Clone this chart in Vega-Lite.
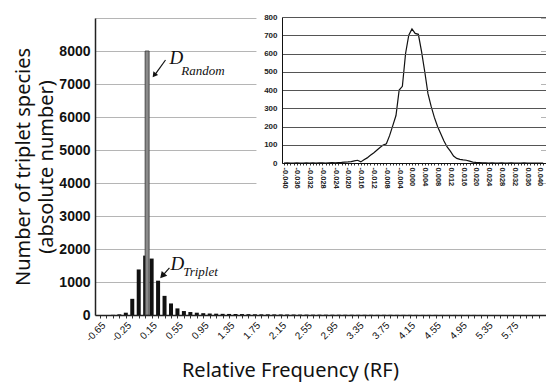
{
  "$schema": "https://vega.github.io/schema/vega-lite/v6.json",
  "width": 451,
  "height": 297,
  "autosize": {"type": "none"},
  "padding": {"left": 95, "top": 18, "right": 0, "bottom": 72},
  "background": "white",
  "config": {"view": {"stroke": null}},
  "datasets": {
    "triplet": [
      {"rf": -0.45, "count": 5}, {"rf": -0.35, "count": 20}, {"rf": -0.25, "count": 70}, {"rf": -0.15, "count": 490},
      {"rf": -0.05, "count": 1380}, {"rf": 0.05, "count": 1800}, {"rf": 0.15, "count": 1710}, {"rf": 0.25, "count": 1040},
      {"rf": 0.35, "count": 580}, {"rf": 0.45, "count": 350}, {"rf": 0.55, "count": 200}, {"rf": 0.65, "count": 120},
      {"rf": 0.75, "count": 90}, {"rf": 0.85, "count": 70}, {"rf": 0.95, "count": 55}, {"rf": 1.05, "count": 45},
      {"rf": 1.15, "count": 40}, {"rf": 1.25, "count": 35}, {"rf": 1.35, "count": 32}, {"rf": 1.45, "count": 30},
      {"rf": 1.55, "count": 28}, {"rf": 1.65, "count": 25}, {"rf": 1.75, "count": 22}, {"rf": 1.85, "count": 20},
      {"rf": 1.95, "count": 20}, {"rf": 2.05, "count": 18}, {"rf": 2.15, "count": 16}, {"rf": 2.25, "count": 15},
      {"rf": 2.35, "count": 14}, {"rf": 2.45, "count": 12}, {"rf": 2.55, "count": 12}, {"rf": 2.65, "count": 10},
      {"rf": 2.75, "count": 10}, {"rf": 2.85, "count": 9}, {"rf": 2.95, "count": 8}, {"rf": 3.05, "count": 8},
      {"rf": 3.15, "count": 7}, {"rf": 3.25, "count": 7}, {"rf": 3.35, "count": 6}, {"rf": 3.45, "count": 6},
      {"rf": 3.55, "count": 6}, {"rf": 3.65, "count": 5}, {"rf": 3.75, "count": 5}, {"rf": 3.85, "count": 5},
      {"rf": 3.95, "count": 4}, {"rf": 4.05, "count": 4}, {"rf": 4.15, "count": 4}, {"rf": 4.25, "count": 3},
      {"rf": 4.35, "count": 3}, {"rf": 4.45, "count": 3}, {"rf": 4.55, "count": 3}, {"rf": 4.65, "count": 2},
      {"rf": 4.75, "count": 2}, {"rf": 4.85, "count": 2}, {"rf": 4.95, "count": 2}, {"rf": 5.05, "count": 2},
      {"rf": 5.15, "count": 2}, {"rf": 5.25, "count": 1}
    ],
    "random": [
      {"rf": 0.08, "count": 8000}
    ],
    "inset": [
      {"v": -0.040, "n": 0}, {"v": -0.039, "n": 1}, {"v": -0.038, "n": 0}, {"v": -0.037, "n": 0}, {"v": -0.036, "n": 1},
      {"v": -0.035, "n": 0}, {"v": -0.034, "n": 0}, {"v": -0.033, "n": 1}, {"v": -0.032, "n": 0}, {"v": -0.031, "n": 1},
      {"v": -0.030, "n": 0}, {"v": -0.029, "n": 1}, {"v": -0.028, "n": 1}, {"v": -0.027, "n": 0}, {"v": -0.026, "n": 1},
      {"v": -0.025, "n": 2}, {"v": -0.024, "n": 1}, {"v": -0.023, "n": 2}, {"v": -0.022, "n": 3}, {"v": -0.021, "n": 5},
      {"v": -0.020, "n": 6}, {"v": -0.019, "n": 8}, {"v": -0.018, "n": 12}, {"v": -0.017, "n": 15}, {"v": -0.016, "n": 6},
      {"v": -0.015, "n": 18}, {"v": -0.014, "n": 28}, {"v": -0.013, "n": 42}, {"v": -0.012, "n": 55}, {"v": -0.011, "n": 70},
      {"v": -0.010, "n": 85}, {"v": -0.009, "n": 98}, {"v": -0.008, "n": 105}, {"v": -0.007, "n": 150}, {"v": -0.006, "n": 205},
      {"v": -0.005, "n": 260}, {"v": -0.004, "n": 400}, {"v": -0.003, "n": 420}, {"v": -0.002, "n": 600}, {"v": -0.001, "n": 700},
      {"v": 0.000, "n": 735}, {"v": 0.001, "n": 710}, {"v": 0.002, "n": 705}, {"v": 0.003, "n": 610}, {"v": 0.004, "n": 500},
      {"v": 0.005, "n": 380}, {"v": 0.006, "n": 310}, {"v": 0.007, "n": 250}, {"v": 0.008, "n": 200}, {"v": 0.009, "n": 160},
      {"v": 0.010, "n": 120}, {"v": 0.011, "n": 88}, {"v": 0.012, "n": 65}, {"v": 0.013, "n": 38}, {"v": 0.014, "n": 25},
      {"v": 0.015, "n": 20}, {"v": 0.016, "n": 17}, {"v": 0.017, "n": 15}, {"v": 0.018, "n": 10}, {"v": 0.019, "n": 5},
      {"v": 0.020, "n": 3}, {"v": 0.021, "n": 2}, {"v": 0.022, "n": 1}, {"v": 0.023, "n": 1}, {"v": 0.024, "n": 0},
      {"v": 0.025, "n": 1}, {"v": 0.026, "n": 0}, {"v": 0.027, "n": 0}, {"v": 0.028, "n": 1}, {"v": 0.029, "n": 0},
      {"v": 0.030, "n": 0}, {"v": 0.031, "n": 1}, {"v": 0.032, "n": 0}, {"v": 0.033, "n": 0}, {"v": 0.034, "n": 0},
      {"v": 0.035, "n": 1}, {"v": 0.036, "n": 0}, {"v": 0.037, "n": 0}, {"v": 0.038, "n": 0}, {"v": 0.039, "n": 0},
      {"v": 0.040, "n": 0}, {"v": 0.041, "n": 0}
    ]
  },
  "layer": [
    {
      "layer": [
        {
          "data": {"name": "triplet"},
          "mark": {"type": "bar", "width": 4, "color": "#111"},
          "encoding": {
            "x": {
              "field": "rf", "type": "quantitative",
              "scale": {"domain": [-0.65, 6.183], "nice": false, "zero": false},
              "axis": {
                "values": [-0.65, -0.55, -0.45, -0.35, -0.25, -0.15, -0.05, 0.05, 0.15, 0.25, 0.35, 0.45, 0.55, 0.65, 0.75, 0.85, 0.95, 1.05, 1.15, 1.25, 1.35, 1.45, 1.55, 1.65, 1.75, 1.85, 1.95, 2.05, 2.15, 2.25, 2.35, 2.45, 2.55, 2.65, 2.75, 2.85, 2.95, 3.05, 3.15, 3.25, 3.35, 3.45, 3.55, 3.65, 3.75, 3.85, 3.95, 4.05, 4.15, 4.25, 4.35, 4.45, 4.55, 4.65, 4.75, 4.85, 4.95, 5.05, 5.15, 5.25, 5.35, 5.45, 5.55, 5.65, 5.75, 5.85, 5.95, 6.05, 6.15],
                "tickCount": 1000,
                "labelExpr": "(round((datum.value + 0.65) * 10) % 4 == 0 && datum.value < 6) ? replace(format(datum.value, '.2f'), '\u2212', '-') : ''",
                "labelAngle": -45,
                "labelFont": "Liberation Sans",
                "labelFontSize": 10,
                "labelColor": "#111",
                "labelPadding": 2,
                "labelOverlap": false,
                "labelBound": false,
                "tickSize": 3,
                "tickColor": "#333",
                "grid": false,
                "domainColor": "#222",
                "domainWidth": 1.5,
                "title": "Relative Frequency (RF)",
                "titleFont": "Noto Sans",
                "titleFontSize": 20,
                "titleFontWeight": "normal",
                "titleColor": "#111",
                "titleX": 195,
                "titleY": 61,
                "titleBaseline": "alphabetic"
              }
            },
            "y": {
              "field": "count", "type": "quantitative",
              "scale": {"domain": [0, 9000], "nice": false},
              "axis": {
                "values": [0, 1000, 2000, 3000, 4000, 5000, 6000, 7000, 8000, 9000],
                "tickCount": 1000,
                "labelExpr": "datum.value == 9000 ? '' : datum.label",
                "format": "d",
                "ticks": false,
                "grid": true,
                "gridColor": "#b5b5b5",
                "labelFont": "Liberation Sans",
                "labelFontSize": 14,
                "labelFontWeight": "bold",
                "labelColor": "#111",
                "labelPadding": 5,
                "labelOverlap": false,
                "domainColor": "#222",
                "domainWidth": 1.5,
                "title": ["Number of triplet species", "(absolute number)"],
                "titleFont": "Noto Sans",
                "titleFontSize": 20,
                "titleFontWeight": "normal",
                "titleColor": "#111",
                "titleLineHeight": 23,
                "titlePadding": 2
              }
            }
          }
        },
        {
          "data": {"name": "random"},
          "mark": {"type": "bar", "width": 4, "fill": "#8a8a8a", "stroke": "#333", "strokeWidth": 0.8},
          "encoding": {
            "x": {"field": "rf", "type": "quantitative"},
            "y": {"field": "count", "type": "quantitative"}
          }
        },
        {
          "data": {"values": [{}]},
          "mark": {"type": "rect", "fill": "white"},
          "encoding": {
            "x": {"datum": 1.774}, "x2": {"datum": 6.183},
            "y": {"datum": 9000}, "y2": {"datum": 3500}
          }
        },
        {
          "data": {"values": [{}]},
          "mark": {"type": "rule", "color": "#111", "strokeWidth": 1.2},
          "encoding": {
            "x": {"datum": 0.365}, "x2": {"datum": 0.205},
            "y": {"datum": 7727}, "y2": {"datum": 7290}
          }
        },
        {
          "data": {"values": [{}]},
          "mark": {"type": "point", "shape": "triangle", "filled": true, "color": "#111", "size": 35, "angle": 217, "opacity": 1},
          "encoding": {"x": {"datum": 0.198}, "y": {"datum": 7288}}
        },
        {
          "data": {"values": [{}]},
          "mark": {"type": "rule", "color": "#111", "strokeWidth": 1.2},
          "encoding": {
            "x": {"datum": 0.426}, "x2": {"datum": 0.33},
            "y": {"datum": 1425}, "y2": {"datum": 1215}
          }
        },
        {
          "data": {"values": [{}]},
          "mark": {"type": "point", "shape": "triangle", "filled": true, "color": "#111", "size": 55, "angle": 222, "opacity": 1},
          "encoding": {"x": {"datum": 0.327}, "y": {"datum": 1213}}
        },
        {
          "data": {"values": [{}]},
          "mark": {"type": "text", "text": "D", "font": "Liberation Serif", "fontStyle": "italic", "fontSize": 19, "align": "left", "baseline": "alphabetic", "color": "#111"},
          "encoding": {"x": {"datum": 0.426}, "y": {"datum": 7606}}
        },
        {
          "data": {"values": [{}]},
          "mark": {"type": "text", "text": "Random", "font": "Liberation Serif", "fontStyle": "italic", "fontSize": 13, "align": "left", "baseline": "alphabetic", "color": "#111"},
          "encoding": {"x": {"datum": 0.608}, "y": {"datum": 7273}}
        },
        {
          "data": {"values": [{}]},
          "mark": {"type": "text", "text": "D", "font": "Liberation Serif", "fontStyle": "italic", "fontSize": 19, "align": "left", "baseline": "alphabetic", "color": "#111"},
          "encoding": {"x": {"datum": 0.441}, "y": {"datum": 1364}}
        },
        {
          "data": {"values": [{}]},
          "mark": {"type": "text", "text": "Triplet", "font": "Liberation Serif", "fontStyle": "italic", "fontSize": 13, "align": "left", "baseline": "alphabetic", "color": "#111"},
          "encoding": {"x": {"datum": 0.638}, "y": {"datum": 1183}}
        }
      ]
    },
    {
      "data": {"name": "inset"},
      "mark": {"type": "line", "color": "#111", "strokeWidth": 1.2},
      "encoding": {
        "x": {
          "field": "v", "type": "quantitative",
          "scale": {"domain": [-0.04063, 0.0419], "range": [187, 451], "nice": false, "zero": false},
          "axis": {
            "orient": "bottom",
            "offset": -152,
            "values": [-0.040, -0.039, -0.038, -0.037, -0.036, -0.035, -0.034, -0.033, -0.032, -0.031, -0.030, -0.029, -0.028, -0.027, -0.026, -0.025, -0.024, -0.023, -0.022, -0.021, -0.020, -0.019, -0.018, -0.017, -0.016, -0.015, -0.014, -0.013, -0.012, -0.011, -0.010, -0.009, -0.008, -0.007, -0.006, -0.005, -0.004, -0.003, -0.002, -0.001, 0.000, 0.001, 0.002, 0.003, 0.004, 0.005, 0.006, 0.007, 0.008, 0.009, 0.010, 0.011, 0.012, 0.013, 0.014, 0.015, 0.016, 0.017, 0.018, 0.019, 0.020, 0.021, 0.022, 0.023, 0.024, 0.025, 0.026, 0.027, 0.028, 0.029, 0.030, 0.031, 0.032, 0.033, 0.034, 0.035, 0.036, 0.037, 0.038, 0.039, 0.040, 0.041],
            "tickCount": 1000,
            "labelExpr": "abs(round(datum.value * 1000)) % 4 == 0 ? replace(format(datum.value, '.3f'), '\u2212', '-') : ''",
            "labelAngle": 90,
            "labelFont": "Liberation Sans",
            "labelFontSize": 7.5,
            "labelFontWeight": "bold",
            "labelColor": "#222",
            "labelPadding": 2,
            "labelOverlap": false,
            "labelBound": false,
            "tickSize": 2,
            "tickColor": "#333",
            "grid": false,
            "domainColor": "#111",
            "title": null,
            "zindex": 1
          }
        },
        "y": {
          "field": "n", "type": "quantitative",
          "scale": {"domain": [0, 800], "range": [145, -1], "nice": false},
          "axis": {
            "orient": "left",
            "offset": -187,
            "values": [0, 100, 200, 300, 400, 500, 600, 700, 800],
            "tickCount": 1000,
            "ticks": false,
            "grid": true,
            "gridColor": "#555",
            "labelFont": "Liberation Sans",
            "labelFontSize": 8,
            "labelFontWeight": "bold",
            "labelColor": "#222",
            "labelPadding": 5,
            "labelOverlap": false,
            "domainColor": "#111",
            "title": null,
            "zindex": 1
          }
        }
      }
    }
  ],
  "resolve": {"scale": {"x": "independent", "y": "independent"}}
}
